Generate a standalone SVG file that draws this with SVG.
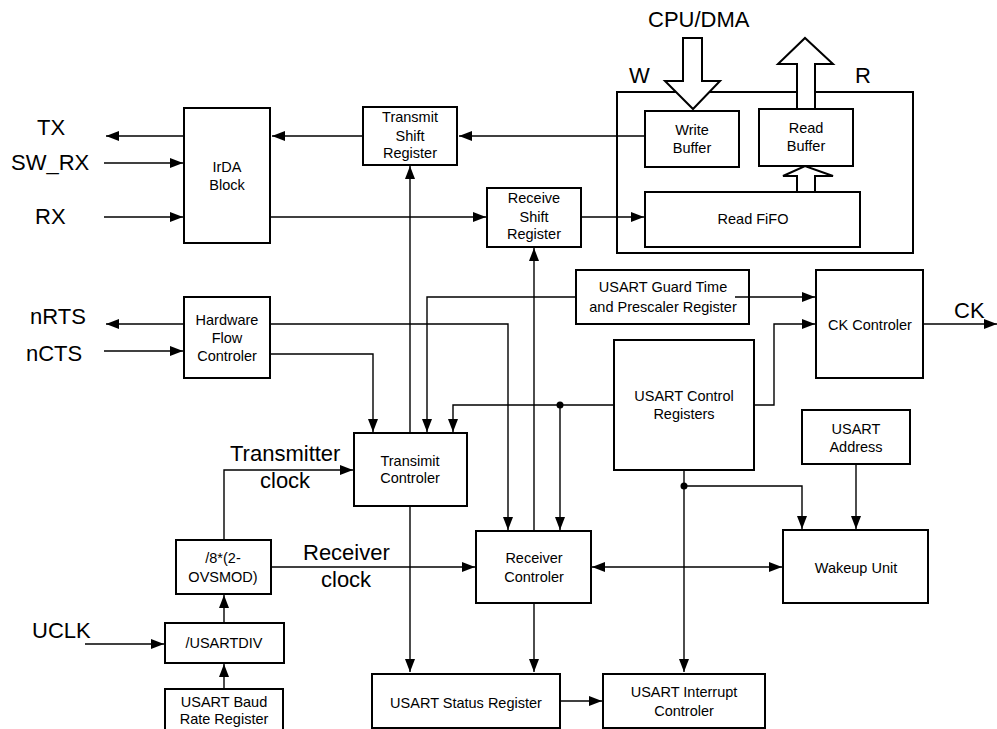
<svg xmlns="http://www.w3.org/2000/svg" width="997" height="729" viewBox="0 0 997 729">
<style>
.box{fill:#fff;stroke:#000;stroke-width:2}
.frame{fill:none;stroke:#000;stroke-width:2}
.ln{fill:none;stroke:#000;stroke-width:1.4}
.hol{fill:#fff;stroke:#000;stroke-width:2;stroke-linejoin:miter}
.t{font-family:"Liberation Sans",Arial,sans-serif;font-size:14.5px;fill:#000;text-anchor:middle}
.big{font-family:"Liberation Sans",Arial,sans-serif;font-size:22px;fill:#000}
</style>
<defs>
<marker id="a" markerUnits="userSpaceOnUse" markerWidth="14" markerHeight="10" refX="13" refY="5" orient="auto-start-reverse">
<path d="M0,0 L13,5 L0,10 z" fill="#000"/>
</marker>
</defs>
<rect width="997" height="729" fill="#fff"/>

<g id="labels">
<text class="big" x="37" y="135">TX</text>
<text class="big" x="11" y="170">SW_RX</text>
<text class="big" x="35" y="224">RX</text>
<text class="big" x="30" y="324">nRTS</text>
<text class="big" x="26" y="361">nCTS</text>
<text class="big" x="32" y="638">UCLK</text>
<text class="big" x="648" y="27">CPU/DMA</text>
<text class="big" x="629" y="83">W</text>
<text class="big" x="855" y="83">R</text>
<text class="big" x="954" y="318">CK</text>
<text class="big" x="230" y="461">Transmitter</text>
<text class="big" x="260" y="488">clock</text>
<text class="big" x="303" y="560">Receiver</text>
<text class="big" x="321" y="587">clock</text>
</g>

<g id="fifo-frame"><rect class="frame" x="617" y="92" width="296" height="161"/></g>

<g id="irda"><rect class="box" x="184" y="108" width="86" height="135"/>
<text class="t" x="227" y="172">IrDA</text><text class="t" x="227" y="190">Block</text></g>

<g id="tx-shift"><rect class="box" x="363" y="107" width="94" height="58"/>
<text class="t" x="410" y="122">Transmit</text><text class="t" x="410" y="141">Shift</text><text class="t" x="410" y="158">Register</text></g>

<g id="rx-shift"><rect class="box" x="487" y="188" width="94" height="59"/>
<text class="t" x="534" y="203">Receive</text><text class="t" x="534" y="222">Shift</text><text class="t" x="534" y="239">Register</text></g>

<g id="write-buffer"><rect class="box" x="645" y="111" width="94" height="56"/>
<text class="t" x="692" y="135">Write</text><text class="t" x="692" y="153">Buffer</text></g>

<g id="read-buffer"><rect class="box" x="759" y="109" width="94" height="57"/>
<text class="t" x="806" y="133">Read</text><text class="t" x="806" y="151">Buffer</text></g>

<g id="read-fifo"><rect class="box" x="645" y="192" width="215" height="55"/>
<text class="t" x="753" y="224">Read FiFO</text></g>

<g id="cpu-arrows">
<polygon class="hol" points="683,38 702,38 702,81 720,81 693,109 665,81 683,81"/>
<polygon class="hol" points="797,109 815,109 815,64 833,64 805,38 778,64 797,64"/>
<polygon class="hol" points="797,192 815,192 815,176 833,176 805,166 783,176 797,176"/>
</g>

<g id="hw-flow"><rect class="box" x="184" y="297" width="86" height="81"/>
<text class="t" x="227" y="325">Hardware</text><text class="t" x="227" y="343">Flow</text><text class="t" x="227" y="361">Controler</text></g>

<g id="guard"><rect class="box" x="576" y="270" width="173" height="54"/>
<text class="t" x="663" y="292">USART Guard Time</text><text class="t" x="663" y="312">and Prescaler Register</text></g>

<g id="ck-ctrl"><rect class="box" x="816" y="270" width="107" height="108"/>
<text class="t" x="870" y="330">CK Controler</text></g>

<g id="ctrl-regs"><rect class="box" x="614" y="340" width="140" height="130"/>
<text class="t" x="684" y="401">USART Control</text><text class="t" x="684" y="419">Registers</text></g>

<g id="address"><rect class="box" x="802" y="410" width="108" height="54"/>
<text class="t" x="856" y="434">USART</text><text class="t" x="856" y="452">Address</text></g>

<g id="tx-ctrl"><rect class="box" x="354" y="433" width="113" height="73"/>
<text class="t" x="410" y="466">Transimit</text><text class="t" x="410" y="483">Controler</text></g>

<g id="ovs"><rect class="box" x="176" y="540" width="95" height="54"/>
<text class="t" x="223" y="563">/8*(2-</text><text class="t" x="223" y="582">OVSMOD)</text></g>

<g id="rx-ctrl"><rect class="box" x="476" y="531" width="115" height="72"/>
<text class="t" x="534" y="563">Receiver</text><text class="t" x="534" y="582">Controler</text></g>

<g id="wakeup"><rect class="box" x="783" y="530" width="145" height="73"/>
<text class="t" x="856" y="573">Wakeup Unit</text></g>

<g id="usartdiv"><rect class="box" x="165" y="623" width="119" height="40"/>
<text class="t" x="224" y="648">/USARTDIV</text></g>

<g id="baud"><rect class="box" x="165" y="689" width="118" height="50"/>
<text class="t" x="224" y="707">USART  Baud</text><text class="t" x="224" y="724">Rate Register</text></g>

<g id="status"><rect class="box" x="372" y="674" width="188" height="54"/>
<text class="t" x="466" y="708">USART Status Register</text></g>

<g id="interrupt"><rect class="box" x="603" y="674" width="162" height="54"/>
<text class="t" x="684" y="697">USART Interrupt</text><text class="t" x="684" y="716">Controler</text></g>

<g id="connectors">
<path class="ln" d="M184,136 H106" marker-end="url(#a)"/>
<path class="ln" d="M104,163 H183" marker-end="url(#a)"/>
<path class="ln" d="M104,217 H183" marker-end="url(#a)"/>
<path class="ln" d="M363,136 H272" marker-end="url(#a)"/>
<path class="ln" d="M645,136 H459" marker-end="url(#a)"/>
<path class="ln" d="M270,217 H486" marker-end="url(#a)"/>
<path class="ln" d="M581,217 H644" marker-end="url(#a)"/>
<path class="ln" d="M184,324 H106" marker-end="url(#a)"/>
<path class="ln" d="M104,351 H183" marker-end="url(#a)"/>
<path class="ln" d="M410,433 V166" marker-end="url(#a)"/>
<path class="ln" d="M534,531 V248" marker-end="url(#a)"/>
<path class="ln" d="M576,297 H427 V432" marker-end="url(#a)"/>
<path class="ln" d="M270,324 H508 V530" marker-end="url(#a)"/>
<path class="ln" d="M270,354 H373 V432" marker-end="url(#a)"/>
<path class="ln" d="M614,405 H453 V432" marker-end="url(#a)"/>
<path class="ln" d="M560,405 V530" marker-end="url(#a)"/>
<circle cx="560" cy="405" r="3.5" fill="#000"/>
<path class="ln" d="M735,297 H815" marker-end="url(#a)"/>
<path class="ln" d="M754,405 H774 V324 H815" marker-end="url(#a)"/>
<path class="ln" d="M923,324 H997" marker-end="url(#a)"/>
<path class="ln" d="M684,470 V672" marker-end="url(#a)"/>
<circle cx="684" cy="486" r="3.5" fill="#000"/>
<path class="ln" d="M684,486 H802 V529" marker-end="url(#a)"/>
<path class="ln" d="M856,464 V529" marker-end="url(#a)"/>
<path class="ln" d="M224,540 V470 H353" marker-end="url(#a)"/>
<path class="ln" d="M271,567 H475" marker-end="url(#a)"/>
<path class="ln" d="M592,567 H782" marker-start="url(#a)" marker-end="url(#a)"/>
<path class="ln" d="M410,506 V672" marker-end="url(#a)"/>
<path class="ln" d="M534,603 V672" marker-end="url(#a)"/>
<path class="ln" d="M560,701 H602" marker-end="url(#a)"/>
<path class="ln" d="M85,644 H164" marker-end="url(#a)"/>
<path class="ln" d="M224,623 V595" marker-end="url(#a)"/>
<path class="ln" d="M224,689 V664" marker-end="url(#a)"/>
</g>
</svg>
